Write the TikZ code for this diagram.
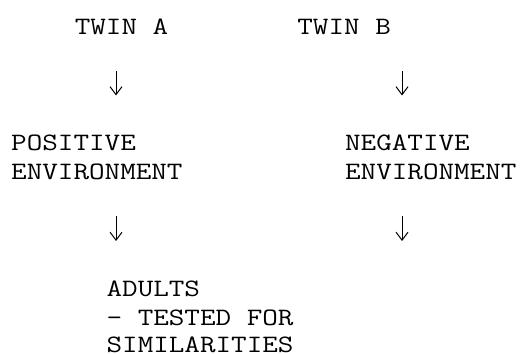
\documentclass[tikz,border=0pt]{standalone}
\usepackage{graphicx}
\usetikzlibrary{arrows.meta}
\newcommand{\mtxt}[1]{\scalebox{1.21}[1]{\fontsize{25}{29}\selectfont\ttfamily #1}}
\begin{document}
\begin{tikzpicture}[x=1pt,y=1pt,
  txt/.style={anchor=base west,inner sep=0pt},
  arr/.style={line width=0.9pt,-{Straight Barb[length=8pt,width=12pt,line width=1pt]}}]
\useasboundingbox[fill=white] (0,0) rectangle (526,353);
% columns: x = 11 + 15.9*col ; baselines measured from top
\node[txt] (twinA) at (11+15.9*4, 353-35) {\mtxt{TWIN A}};
\node[txt] (twinB) at (11+15.9*18, 353-35) {\mtxt{TWIN B}};
\node[txt] (pos1) at (11, 353-151) {\mtxt{POSITIVE}};
\node[txt] (pos2) at (11, 353-180) {\mtxt{ENVIRONMENT}};
\node[txt] (neg1) at (11+15.9*21, 353-151) {\mtxt{NEGATIVE}};
\node[txt] (neg2) at (11+15.9*21, 353-180) {\mtxt{ENVIRONMENT}};
\node[txt] (ad1) at (11+15.9*6, 353-296) {\mtxt{ADULTS}};
\node[txt] (ad2) at (11+15.9*6, 353-325) {\mtxt{- TESTED FOR}};
\node[txt] (ad3) at (11+15.9*6, 353-352) {\mtxt{SIMILARITIES}};
\coordinate (a1s) at (116, 353-71);
\coordinate (a1e) at (116, 353-95.5);
\coordinate (a2s) at (402, 353-71);
\coordinate (a2e) at (402, 353-95.5);
\coordinate (a3s) at (116, 353-216.5);
\coordinate (a3e) at (116, 353-241);
\coordinate (a4s) at (402, 353-216.5);
\coordinate (a4e) at (402, 353-241);
\draw[arr] (a1s) -- (a1e);
\draw[arr] (a2s) -- (a2e);
\draw[arr] (a3s) -- (a3e);
\draw[arr] (a4s) -- (a4e);
\end{tikzpicture}
\end{document}
